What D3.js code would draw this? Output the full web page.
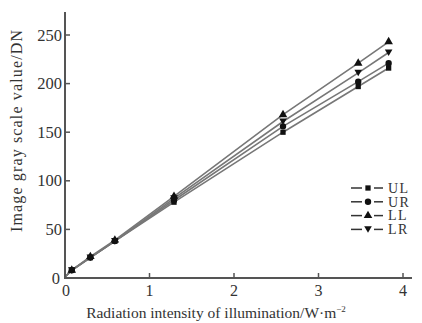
<!DOCTYPE html>
<html><head><meta charset="utf-8">
<script src="https://cdn.jsdelivr.net/npm/d3@7"></script>
<style>body{margin:0;background:#fff}svg{display:block}</style>
</head><body>
<svg id="c" width="422" height="323"></svg>
<script>
const xValues = [0, 0.08, 0.3, 0.59, 1.29, 2.58, 3.47, 3.83];
const seriesNames = ["UL", "UR", "LL", "LR"];
const ulValues = [1, 8, 21, 38, 78, 150, 197, 216];
const urValues = [1, 8, 21, 38, 80, 156, 202, 221];
const llValues = [1, 8, 22, 39, 84, 168, 221, 243];
const lrValues = [1, 8, 21, 38, 82, 161, 211, 232];
const xTicks = [0, 1, 2, 3, 4];
const yTicks = [0, 50, 100, 150, 200, 250];

const series = [
  {name: "UL", values: ulValues, sym: d3.symbolSquare},
  {name: "UR", values: urValues, sym: d3.symbolCircle},
  {name: "LL", values: llValues, sym: d3.symbolTriangle},
  {name: "LR", values: lrValues, sym: "down"}
];

const svg = d3.select("#c");
const x = d3.scaleLinear().domain([0, 4]).range([65, 403]);
const y = d3.scaleLinear().domain([0, 250]).range([278, 35]);
const font = "'Liberation Serif', 'DejaVu Serif', serif";
const axisCol = "#555";

function marker(g, sym, cx, cy) {
  if (sym === "down") {
    const s = 3.8;
    g.append("path").attr("d", `M${cx - s},${cy - s * 0.8}L${cx + s},${cy - s * 0.8}L${cx},${cy + s * 0.9}Z`).attr("fill", "#111");
  } else {
    const size = sym === d3.symbolSquare ? 28 : 32;
    g.append("path").attr("d", d3.symbol().type(sym).size(size)()).attr("transform", `translate(${cx},${cy})`).attr("fill", "#111");
  }
}

// lines
const line = d3.line().x((d, i) => x(xValues[i])).y(d => y(d));
series.forEach(s => {
  svg.append("path").attr("d", line(s.values)).attr("fill", "none").attr("stroke", "#777").attr("stroke-width", 1.6);
});
series.forEach(s => {
  const g = svg.append("g");
  s.values.forEach((v, i) => { if (i > 0) marker(g, s.sym, x(xValues[i]), y(v)); });
});

// axes
svg.append("line").attr("x1", 65).attr("x2", 65).attr("y1", 12).attr("y2", 278).attr("stroke", axisCol).attr("stroke-width", 2);
svg.append("line").attr("x1", 64).attr("x2", 412).attr("y1", 278).attr("y2", 278).attr("stroke", axisCol).attr("stroke-width", 2);

yTicks.forEach(t => {
  if (t > 0) svg.append("line").attr("x1", 65).attr("x2", 70).attr("y1", y(t)).attr("y2", y(t)).attr("stroke", axisCol).attr("stroke-width", 1.5);
  svg.append("text").attr("x", t === 0 ? 60 : 62).attr("y", y(t) + 5.5).attr("text-anchor", "end")
    .attr("font-family", font).attr("font-size", 16.5).attr("fill", "#333").text(t);
});
xTicks.forEach(t => {
  if (t > 0) svg.append("line").attr("x1", x(t)).attr("x2", x(t)).attr("y1", 278).attr("y2", 273).attr("stroke", axisCol).attr("stroke-width", 1.5);
  svg.append("text").attr("x", x(t) + (t === 0 ? 1 : 0)).attr("y", 296).attr("text-anchor", "middle")
    .attr("font-family", font).attr("font-size", 16).attr("fill", "#333").text(t);
});

// titles
const xt = svg.append("text").attr("x", 216).attr("y", 318).attr("text-anchor", "middle")
  .attr("font-family", font).attr("font-size", 15.5).attr("fill", "#333");
xt.append("tspan").text("Radiation intensity of illumination/W·m");
xt.append("tspan").attr("font-size", 9).attr("dy", -6).text("−2");

svg.append("text").attr("transform", "translate(22,131) rotate(-90)").attr("text-anchor", "middle")
  .attr("font-family", font).attr("font-size", 16).attr("fill", "#333")
  .attr("textLength", 202).attr("lengthAdjust", "spacing").text("Image gray scale value/DN");

// legend
seriesNames.forEach((n, i) => {
  const s = series.find(d => d.name === n);
  const ly = 188 + i * 13.8;
  const g = svg.append("g");
  g.append("line").attr("x1", 351).attr("x2", 362).attr("y1", ly).attr("y2", ly).attr("stroke", "#333").attr("stroke-width", 1.5);
  g.append("line").attr("x1", 374).attr("x2", 383).attr("y1", ly).attr("y2", ly).attr("stroke", "#333").attr("stroke-width", 1.5);
  marker(g, s.sym, 368, ly);
  g.append("text").attr("x", 388).attr("y", ly + 4.8).attr("font-family", font).attr("font-size", 14).attr("letter-spacing", 1.5).attr("fill", "#333").text(n);
});
</script>
</body></html>
